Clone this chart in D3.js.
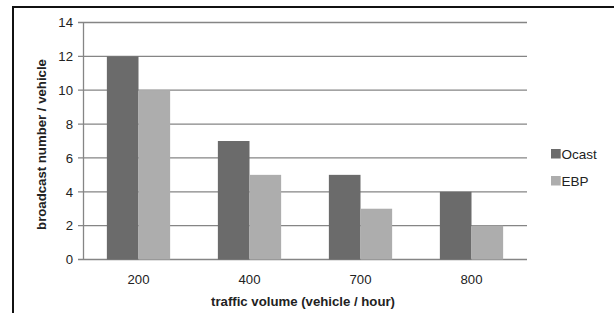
<!DOCTYPE html>
<html>
<head>
<meta charset="utf-8">
<script src="https://cdn.jsdelivr.net/npm/d3@7"></script>
<style>
  body { margin: 0; background: #fff; }
  text { font-family: "Liberation Sans", Arial, sans-serif; }
</style>
</head>
<body>
<div id="chart"></div>
<script>
// chart values
var categories = ["200", "400", "700", "800"];
var seriesNames = ["Ocast", "EBP"];
var ocast = [12, 7, 5, 4];
var ebp = [10, 5, 3, 2];
var yTicks = [0, 2, 4, 6, 8, 10, 12, 14];
var colors = ["#6b6b6b", "#adadad"];

var w = 614, h = 313;
var margin = { top: 22.5, left: 83, right: 87, bottom: 53.5 };
var width = w - margin.left - margin.right;
var height = h - margin.top - margin.bottom;
var fs = 13.2;

var svg = d3.select("#chart").append("svg")
  .attr("width", w)
  .attr("height", h);

// outer frame
svg.append("rect")
  .attr("x", 13).attr("y", 7)
  .attr("width", 700).attr("height", 400)
  .attr("fill", "none")
  .attr("stroke", "#111")
  .attr("stroke-width", 2);

var chartGroup = svg.append("g")
  .attr("transform", `translate(${margin.left}, ${margin.top})`);

var xScale = d3.scaleBand()
  .domain(categories)
  .range([0, width])
  .paddingInner(0.43)
  .paddingOuter(0.215);

var xSub = d3.scaleBand()
  .domain(seriesNames)
  .range([0, xScale.bandwidth()]);

var yScale = d3.scaleLinear()
  .domain([0, 14])
  .range([height, 0]);

// gridlines
chartGroup.append("g")
  .selectAll("line")
  .data(yTicks)
  .enter()
  .append("line")
  .attr("x1", -5)
  .attr("x2", width)
  .attr("y1", d => yScale(d))
  .attr("y2", d => yScale(d))
  .attr("stroke", "#858585")
  .attr("stroke-width", 1.3);

// y axis
var leftAxis = d3.axisLeft(yScale).tickValues(yTicks).tickSize(0).tickPadding(10);
var yAxis = chartGroup.append("g").call(leftAxis);
yAxis.select(".domain").attr("stroke", "#858585").attr("stroke-width", 1.3);
yAxis.selectAll("text")
  .attr("font-size", fs)
  .attr("fill", "#222")
  .style("font-family", "'Liberation Sans', Arial, sans-serif");

// bars
var data = categories.map((c, i) => ({ cat: c, values: [ocast[i], ebp[i]] }));
var groups = chartGroup.selectAll("g.grp")
  .data(data)
  .enter()
  .append("g")
  .attr("class", "grp")
  .attr("transform", d => `translate(${xScale(d.cat)}, 0)`);

groups.selectAll("rect")
  .data(d => d.values.map((v, j) => ({ name: seriesNames[j], value: v, j: j })))
  .enter()
  .append("rect")
  .attr("x", d => xSub(d.name))
  .attr("y", d => yScale(d.value))
  .attr("width", xSub.bandwidth())
  .attr("height", d => height - yScale(d.value))
  .attr("fill", d => colors[d.j]);

// x axis labels
var bottomAxis = d3.axisBottom(xScale).tickSize(0).tickPadding(15);
var xAxis = chartGroup.append("g")
  .attr("transform", `translate(0, ${height})`)
  .call(bottomAxis);
xAxis.select(".domain").remove();
xAxis.selectAll("text")
  .attr("font-size", fs)
  .attr("fill", "#222")
  .style("font-family", "'Liberation Sans', Arial, sans-serif");

// x axis title
chartGroup.append("text")
  .attr("x", width / 2 - 2)
  .attr("y", height + 46.5)
  .attr("text-anchor", "middle")
  .attr("font-size", fs)
  .attr("font-weight", "bold")
  .attr("fill", "#222")
  .text("traffic volume (vehicle / hour)");

// y axis title
svg.append("text")
  .attr("transform", "translate(45.5, 144.5) rotate(-90)")
  .attr("text-anchor", "middle")
  .attr("font-size", fs)
  .attr("font-weight", "bold")
  .attr("fill", "#222")
  .text("broadcast number / vehicle");

// legend
var legend = svg.append("g").attr("transform", "translate(551, 149)");
var items = legend.selectAll("g")
  .data(seriesNames)
  .enter()
  .append("g")
  .attr("transform", (d, i) => `translate(0, ${i * 27})`);
items.append("rect")
  .attr("width", 9.7).attr("height", 9.5)
  .attr("fill", (d, i) => colors[i]);
items.append("text")
  .attr("x", 10.5)
  .attr("y", 9.7)
  .attr("font-size", 13.5)
  .attr("fill", "#222")
  .text(d => d);
</script>
</body>
</html>
